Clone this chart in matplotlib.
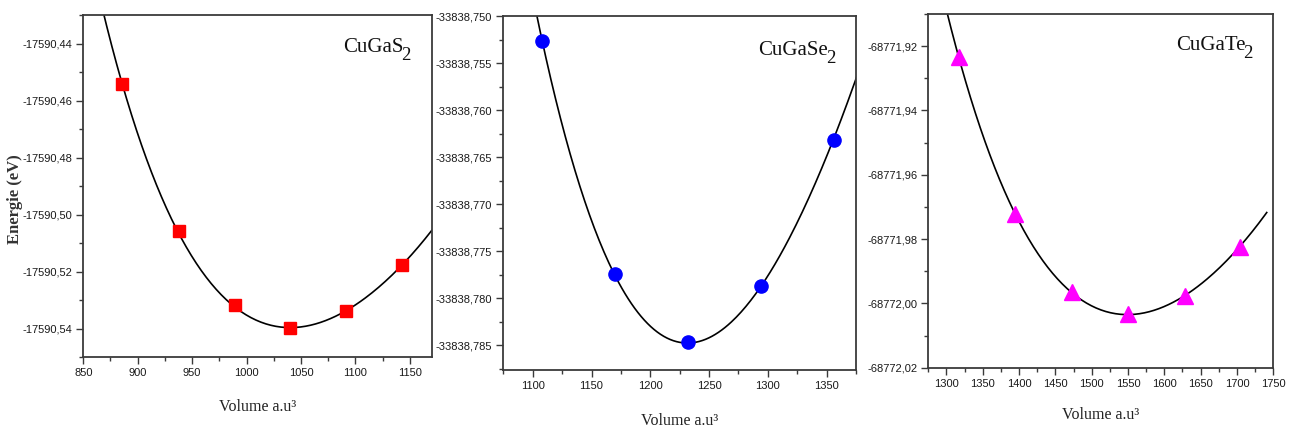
import matplotlib
matplotlib.use("Agg")
import numpy as np
import matplotlib.pyplot as plt
from matplotlib import font_manager
from matplotlib.ticker import FuncFormatter, MultipleLocator

# CuGaS2 : computed points and points
s_vol = [886, 937.5, 989, 1040, 1091.5, 1142.5]
s_e = [-17590.4543, -17590.5056, -17590.5316, -17590.5398, -17590.5339, -17590.5175]
s_fit_vol = [867, 886, 911, 937, 962, 988, 1014, 1040, 1066, 1092, 1117, 1142, 1170]
s_fit_e = [-17590.4267, -17590.4543, -17590.4845, -17590.5054, -17590.5212, -17590.5318,
           -17590.5380, -17590.5396, -17590.5383, -17590.5336, -17590.5268, -17590.5175,
           -17590.5058]
s_xticks = [850, 900, 950, 1000, 1050, 1100, 1150]
s_yticks = [-17590.54, -17590.52, -17590.50, -17590.48, -17590.46, -17590.44]

# CuGaSe2
se_vol = [1108, 1170, 1232, 1294, 1356]
se_e = [-33838.75267, -33838.77743, -33838.78465, -33838.77871, -33838.76315]
se_fit_vol = [1103, 1108, 1124, 1139, 1155, 1170, 1185, 1200, 1216, 1232, 1247, 1262,
              1278, 1294, 1309, 1325, 1340, 1356, 1376]
se_fit_e = [-33838.7496, -33838.75267, -33838.76115, -33838.76765, -33838.77324,
            -33838.77743, -33838.78093, -33838.78322, -33838.78439, -33838.78466,
            -33838.78438, -33838.78328, -33838.78136, -33838.77871, -33838.77575,
            -33838.77193, -33838.76792, -33838.76315, -33838.75623]
se_xticks = [1100, 1150, 1200, 1250, 1300, 1350]
se_yticks = [-33838.785, -33838.780, -33838.775, -33838.770, -33838.765, -33838.760,
             -33838.755, -33838.750]

# CuGaTe2
te_vol = [1318, 1395, 1473, 1550, 1628, 1704]
te_e = [-68771.9234, -68771.9722, -68771.9966, -68772.0034, -68771.9977, -68771.9824]
te_fit_vol = [1300, 1318, 1340, 1357, 1376, 1395, 1415, 1434, 1453, 1473, 1492, 1511,
              1531, 1550, 1570, 1589, 1608, 1628, 1647, 1666, 1685, 1704, 1722, 1741]
te_fit_e = [-68771.9083, -68771.9245, -68771.9412, -68771.9524, -68771.9632, -68771.9723,
            -68771.9803, -68771.9869, -68771.9922, -68771.9963, -68771.9997, -68772.0020,
            -68772.0034, -68772.0038, -68772.0033, -68772.0021, -68772.0002, -68771.9976,
            -68771.9943, -68771.9907, -68771.9867, -68771.9824, -68771.9775, -68771.9718]
te_xticks = [1300, 1350, 1400, 1450, 1500, 1550, 1600, 1650, 1700, 1750]
te_yticks = [-68772.02, -68772.00, -68771.98, -68771.96, -68771.94, -68771.92]

installed = {f.name for f in font_manager.fontManager.ttflist}
if 'Liberation Sans Narrow' in installed:
    tick_font, tick_size = 'Liberation Sans Narrow', 10
else:
    tick_font, tick_size = 'Liberation Sans', 8
serif = 'Liberation Serif'
frame = '#3a3a3a'


def smooth_fit(vol, e, n=200):
    # smooth polynomial through the points read along the plotted fit
    vol = np.asarray(vol, float)
    e = np.asarray(e, float)
    x0, e0 = vol.mean(), e.mean()
    coef = np.polyfit(vol - x0, e - e0, 4)
    xs = np.linspace(vol[0], vol[-1], n)
    return xs, np.polyval(coef, xs - x0) + e0


fig = plt.figure(figsize=(12.97, 4.34), dpi=100)

panels = [
    ([0.0642, 0.1767, 0.2686, 0.7887], s_vol, s_e, s_fit_vol, s_fit_e, 's', '#ff0000', 8,
     (850, 1170), (-17590.55, -17590.43), s_xticks, s_yticks, 2, 0.01, 'CuGaS', (343, 52)),
    ([0.3881, 0.1486, 0.2719, 0.8141], se_vol, se_e, se_fit_vol, se_fit_e, 'o', '#0000ff', 9.5,
     (1075, 1375), (-33838.7876, -33838.750), se_xticks, se_yticks, 3, 0.0025, 'CuGaSe', (758, 55)),
    ([0.7157, 0.1528, 0.2660, 0.8149], te_vol, te_e, te_fit_vol, te_fit_e, '^', '#ff00ff', 11,
     (1275, 1750), (-68772.02, -68771.91), te_xticks, te_yticks, 2, 0.01, 'CuGaTe', (1176, 50)),
]

for (rect, vol, e, fv, fe, mk, col, ms, xlim, ylim, xt, yt, dec, yminor, name, npos) in panels:
    ax = fig.add_axes(rect)
    xs, ys = smooth_fit(fv, fe)
    ax.plot(xs, ys, color='black', lw=1.2, zorder=2)
    ax.plot(vol, e, linestyle='none', marker=mk, color=col, ms=ms, mec=col, zorder=3)
    ax.set_xlim(*xlim)
    ax.set_ylim(*ylim)
    ax.set_xticks(xt)
    ax.set_yticks(yt)
    ax.xaxis.set_minor_locator(MultipleLocator(25))
    ax.yaxis.set_minor_locator(MultipleLocator(yminor))
    ax.yaxis.set_major_formatter(FuncFormatter(lambda v, p, d=dec: f'{v:.{d}f}'.replace('.', ',')))
    ax.xaxis.set_major_formatter(FuncFormatter(lambda v, p: f'{v:.0f}'))
    for sp in ax.spines.values():
        sp.set_color(frame)
        sp.set_linewidth(1.3)
    ax.tick_params(which='major', direction='out', length=5, width=1, color=frame,
                   labelsize=tick_size, labelcolor='#1a1a1a', pad=3)
    ax.tick_params(which='minor', direction='out', length=3, width=1, color=frame)
    for lab in ax.get_xticklabels() + ax.get_yticklabels():
        lab.set_family(tick_font)
    # compound name with a large, lowered subscript 2
    t = fig.text(npos[0] / 1297, 1 - npos[1] / 434, name, family=serif, fontsize=15,
                 ha='left', va='baseline', color='#111111')
    ax.annotate('2', xy=(1, 0), xycoords=t, xytext=(-1.5, -2), textcoords='offset points',
                family=serif, fontsize=13.5, ha='left', va='baseline', color='#111111')

# axis titles
for xc, yc in [(258, 407), (680, 421), (1101, 415)]:
    fig.text(xc / 1297, 1 - yc / 434, 'Volume a.u³', family=serif, fontsize=11.5,
             ha='center', va='center', color='#222222')
fig.text(15 / 1297, 1 - 199 / 434, 'Energie (eV)', family=serif, fontsize=12,
         fontweight='bold', rotation=90, ha='center', va='center', color='#333333')

fig.savefig('out.png', dpi=100)
